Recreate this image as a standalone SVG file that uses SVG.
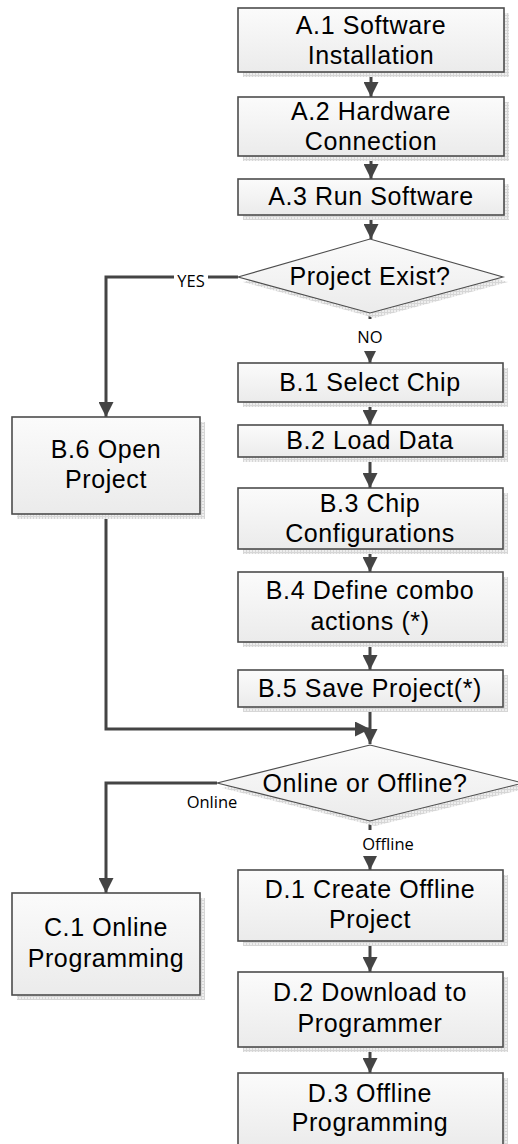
<svg xmlns="http://www.w3.org/2000/svg" width="518" height="1144" viewBox="0 0 518 1144">
<style>
.box{fill:url(#g);stroke:#4d4d4d;stroke-width:1.6}
.sh{fill:url(#hatch)}
.dia{fill:url(#g);stroke:#4d4d4d;stroke-width:1.1}
.t{font-family:"Liberation Sans",Arial,sans-serif;font-size:25px;letter-spacing:0.6px;fill:#000;text-anchor:middle}
.lbl{font-family:"Open Sans","Noto Sans",sans-serif;font-size:16.5px;fill:#000;text-anchor:middle}
.c{fill:none;stroke:#444;stroke-width:3}
.bg{fill:#fff}
</style>
<defs>
<linearGradient id="g" x1="0" y1="0" x2="0" y2="1">
<stop offset="0" stop-color="#fbfbfb"/>
<stop offset="1" stop-color="#ebebeb"/>
</linearGradient>
<pattern id="hatch" width="3" height="3" patternUnits="userSpaceOnUse">
<rect width="3" height="3" fill="#eeeeee"/>
<rect width="1" height="3" fill="#d6d6d6"/>
<rect width="3" height="1" fill="#d6d6d6"/>
</pattern>
<marker id="arr" viewBox="0 0 14 14" refX="14" refY="7" markerWidth="15" markerHeight="15" markerUnits="userSpaceOnUse" orient="auto">
<path d="M0,0 L14,7 L0,14 z" fill="#444"/>
</marker>
</defs>
<rect width="518" height="1144" fill="#fff"/>

<g id="connectors">
<line class="c" x1="371" y1="72" x2="371" y2="97" marker-end="url(#arr)"/>
<line class="c" x1="371" y1="156" x2="371" y2="179" marker-end="url(#arr)"/>
<line class="c" x1="371" y1="215" x2="371" y2="239" marker-end="url(#arr)"/>
<line class="c" x1="370" y1="313" x2="370" y2="363" marker-end="url(#arr)"/>
<polyline class="c" points="238,277 106,277 106,417" marker-end="url(#arr)"/>
<line class="c" x1="370" y1="402" x2="370" y2="425" marker-end="url(#arr)"/>
<line class="c" x1="370" y1="457" x2="370" y2="488" marker-end="url(#arr)"/>
<line class="c" x1="370" y1="549" x2="370" y2="572" marker-end="url(#arr)"/>
<line class="c" x1="370" y1="642" x2="370" y2="670" marker-end="url(#arr)"/>
<line class="c" x1="370" y1="707" x2="370" y2="744" marker-end="url(#arr)"/>
<polyline class="c" points="106,514 106,729 370,729" marker-end="url(#arr)"/>
<polyline class="c" points="217,783 106,783 106,893" marker-end="url(#arr)"/>
<line class="c" x1="370" y1="821" x2="370" y2="870" marker-end="url(#arr)"/>
<line class="c" x1="370" y1="941" x2="370" y2="972" marker-end="url(#arr)"/>
<line class="c" x1="370" y1="1047" x2="370" y2="1073" marker-end="url(#arr)"/>
<rect class="bg" x="174" y="270" width="34" height="20"/>
<text class="lbl" x="191" y="287">YES</text>
<rect class="bg" x="358" y="319" width="24" height="32"/>
<text class="lbl" x="370" y="343">NO</text>
<text class="lbl" x="212" y="808">Online</text>
<rect class="bg" x="358" y="830" width="60" height="26"/>
<text class="lbl" x="388" y="850">Offline</text>
</g>

<g id="A1">
<rect class="sh" x="243" y="13" width="266" height="64"/>
<rect class="box" x="238" y="8" width="266" height="64"/>
<text class="t" x="371" y="34">A.1 Software</text>
<text class="t" x="371" y="64">Installation</text>
</g>
<g id="A2">
<rect class="sh" x="243" y="102" width="266" height="59"/>
<rect class="box" x="238" y="97" width="266" height="59"/>
<text class="t" x="371" y="120">A.2 Hardware</text>
<text class="t" x="371" y="150">Connection</text>
</g>
<g id="A3">
<rect class="sh" x="243" y="184" width="266" height="36"/>
<rect class="box" x="238" y="179" width="266" height="36"/>
<text class="t" x="371" y="205">A.3 Run Software</text>
</g>
<g id="D_exist">
<polygon class="sh" points="243,282 375,244 508,282 375,318"/>
<polygon class="dia" points="238,277 370,239 503,277 370,313"/>
<text class="t" x="370" y="285">Project Exist?</text>
</g>
<g id="B1">
<rect class="sh" x="243" y="368" width="265" height="39"/>
<rect class="box" x="238" y="363" width="265" height="39"/>
<text class="t" x="370" y="391">B.1 Select Chip</text>
</g>
<g id="B2">
<rect class="sh" x="243" y="430" width="265" height="32"/>
<rect class="box" x="238" y="425" width="265" height="32"/>
<text class="t" x="370" y="449">B.2 Load Data</text>
</g>
<g id="B3">
<rect class="sh" x="243" y="493" width="265" height="61"/>
<rect class="box" x="238" y="488" width="265" height="61"/>
<text class="t" x="370" y="512">B.3 Chip</text>
<text class="t" x="370" y="542">Configurations</text>
</g>
<g id="B4">
<rect class="sh" x="243" y="577" width="265" height="70"/>
<rect class="box" x="238" y="572" width="265" height="70"/>
<text class="t" x="370" y="599">B.4 Define combo</text>
<text class="t" x="370" y="630">actions (*)</text>
</g>
<g id="B5">
<rect class="sh" x="243" y="675" width="265" height="37"/>
<rect class="box" x="238" y="670" width="265" height="37"/>
<text class="t" x="370" y="697">B.5 Save Project(*)</text>
</g>
<g id="B6">
<rect class="sh" x="17" y="422" width="188" height="97"/>
<rect class="box" x="12" y="417" width="188" height="97"/>
<text class="t" x="106" y="458">B.6 Open</text>
<text class="t" x="106" y="488">Project</text>
</g>
<g id="D_online">
<polygon class="sh" points="222,788 375,750 528,788 375,826"/>
<polygon class="dia" points="217,783 370,745 523,783 370,821"/>
<text class="t" x="365" y="792">Online or Offline?</text>
</g>
<g id="C1">
<rect class="sh" x="17" y="898" width="188" height="102"/>
<rect class="box" x="12" y="893" width="188" height="102"/>
<text class="t" x="106" y="936">C.1 Online</text>
<text class="t" x="106" y="967">Programming</text>
</g>
<g id="D1">
<rect class="sh" x="243" y="875" width="265" height="71"/>
<rect class="box" x="238" y="870" width="265" height="71"/>
<text class="t" x="370" y="898">D.1 Create Offline</text>
<text class="t" x="370" y="928">Project</text>
</g>
<g id="D2">
<rect class="sh" x="243" y="977" width="265" height="75"/>
<rect class="box" x="238" y="972" width="265" height="75"/>
<text class="t" x="370" y="1001">D.2 Download to</text>
<text class="t" x="370" y="1032">Programmer</text>
</g>
<g id="D3">
<rect class="sh" x="243" y="1078" width="265" height="75"/>
<rect class="box" x="238" y="1073" width="265" height="75"/>
<text class="t" x="370" y="1102">D.3 Offline</text>
<text class="t" x="370" y="1131">Programming</text>
</g>
</svg>
